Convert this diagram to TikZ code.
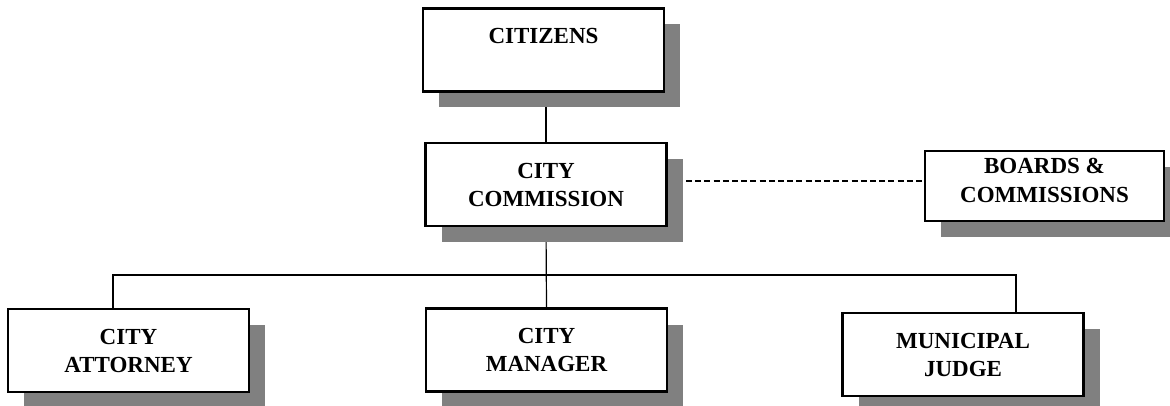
\documentclass[tikz,border=0pt]{standalone}
\usepackage{fontspec}
\setmainfont{Liberation Serif}
\usepackage{tikz}
\usetikzlibrary{shadows, backgrounds}
\definecolor{shadowgray}{HTML}{808080}

\begin{document}
\begin{tikzpicture}[
  x=0.5pt, y=-0.5pt,
  office/.style={rectangle, draw, line width=1.1pt, fill=white, align=center,
    minimum width=120.5pt, minimum height=41.5pt, inner sep=3pt,
    font=\fontsize{11.5}{14}\selectfont\bfseries,
    drop shadow={shadow xshift=8pt, shadow yshift=-8pt, fill=shadowgray, opacity=1}},
  link/.style={draw, line width=0.6pt},
  dashlink/.style={draw, line width=0.7pt, dash pattern=on 3pt off 1.6pt}
]
\useasboundingbox (0,0) rectangle (1170,406);
\node[office] (citizens) at (543.5,50) {CITIZENS\\\mbox{}};
\node[office] (commission) at (546,184.5) {CITY\\COMMISSION};
\node[office, minimum width=119.5pt, minimum height=35pt, text height=16pt, text depth=0pt] (boards) at (1044.5,186) {BOARDS \&\\COMMISSIONS};
\node[office] (attorney) at (128.5,350.5) {CITY\\ATTORNEY};
\node[office] (manager) at (546.5,350) {CITY\\MANAGER};
\node[office] (judge) at (963,354.5) {MUNICIPAL\\JUDGE};
\coordinate (busL) at (113,275);
\coordinate (busR) at (1016,275);
\begin{scope}[on background layer]
  \draw[link] (commission.north) -- (commission.north |- citizens.south);
  \draw[link] (commission.south) -- (manager.north);
  \draw[link] (attorney.north -| busL) -- (busL) -- (busR) -- (judge.north -| busR);
  \draw[dashlink] ([yshift=1.75pt]commission.east) -- ([yshift=1.75pt]commission.east -| boards.west);
\end{scope}
\end{tikzpicture}
\end{document}
